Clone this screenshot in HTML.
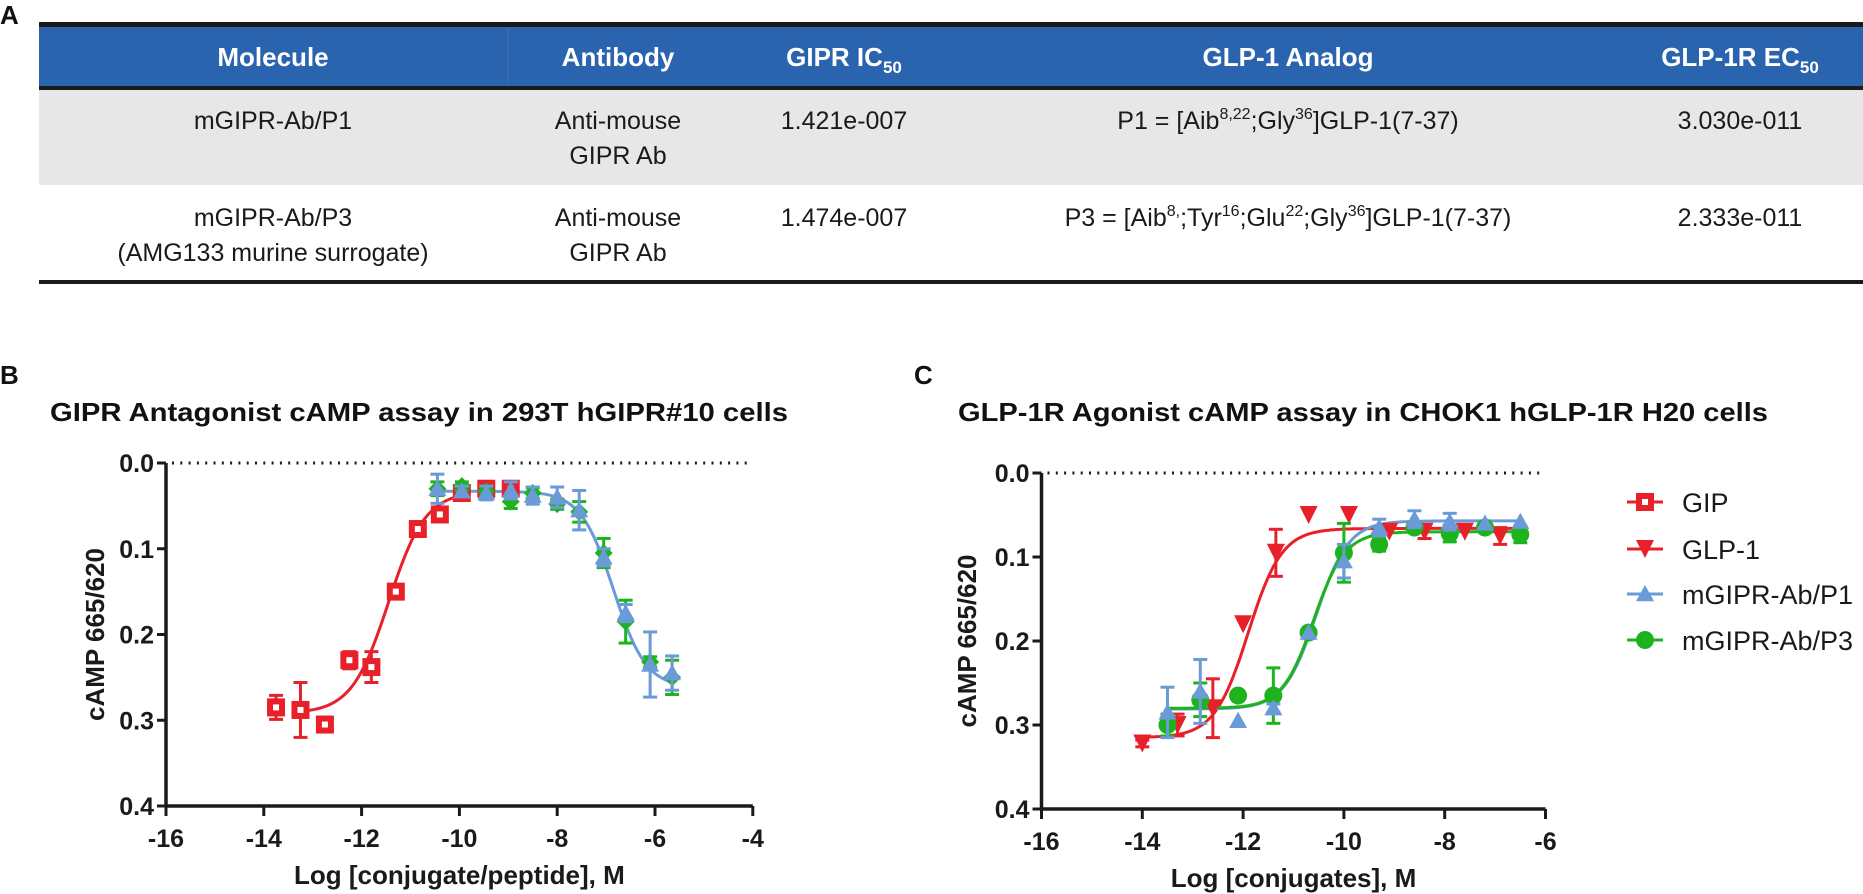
<!DOCTYPE html>
<html><head><meta charset="utf-8"><style>
html,body{margin:0;padding:0;background:#fff;}
svg{display:block;font-family:"Liberation Sans",Arial,sans-serif;}
</style></head><body>
<svg id="s" width="1863" height="894" viewBox="0 0 1863 894" xmlns="http://www.w3.org/2000/svg">
<!-- Panel A table -->
<text x="0" y="24" font-size="26" font-weight="bold" fill="#111">A</text>
<rect x="39" y="25" width="1824" height="62" fill="#2a63ae"/>
<rect x="39" y="89" width="1824" height="96" fill="#e6e7e6"/>
<rect x="39" y="22" width="1824" height="5" fill="#1a1a1a"/>
<rect x="39" y="86" width="1824" height="4" fill="#1a1a1a"/>
<rect x="39" y="280" width="1824" height="4" fill="#1a1a1a"/>
<line x1="508" y1="27" x2="508" y2="86" stroke="#3a70b8" stroke-width="1"/>
<g font-size="26" font-weight="bold" fill="#fff" text-anchor="middle">
<text x="273" y="66">Molecule</text>
<text x="618" y="66">Antibody</text>
<text x="844" y="66">GIPR IC<tspan font-size="17" dy="7">50</tspan></text>
<text x="1288" y="66">GLP-1 Analog</text>
<text x="1740" y="66">GLP-1R EC<tspan font-size="17" dy="7">50</tspan></text>
</g>
<g font-size="25" fill="#1a1a1a" text-anchor="middle">
<text x="273" y="129">mGIPR-Ab/P1</text>
<text x="618" y="129">Anti-mouse</text>
<text x="618" y="164">GIPR Ab</text>
<text x="844" y="129">1.421e-007</text>
<text x="1288" y="129">P1 = [Aib<tspan font-size="16" dy="-10">8,22</tspan><tspan dy="10">;Gly</tspan><tspan font-size="16" dy="-10">36</tspan><tspan dy="10">]GLP-1(7-37)</tspan></text>
<text x="1740" y="129">3.030e-011</text>
<text x="273" y="226">mGIPR-Ab/P3</text>
<text x="273" y="261">(AMG133 murine surrogate)</text>
<text x="618" y="226">Anti-mouse</text>
<text x="618" y="261">GIPR Ab</text>
<text x="844" y="226">1.474e-007</text>
<text x="1288" y="226">P3 = [Aib<tspan font-size="16" dy="-10">8,</tspan><tspan dy="10">;Tyr</tspan><tspan font-size="16" dy="-10">16</tspan><tspan dy="10">;Glu</tspan><tspan font-size="16" dy="-10">22</tspan><tspan dy="10">;Gly</tspan><tspan font-size="16" dy="-10">36</tspan><tspan dy="10">]GLP-1(7-37)</tspan></text>
<text x="1740" y="226">2.333e-011</text>
</g>
<!-- labels / titles -->
<text x="0" y="384" font-size="26" font-weight="bold" fill="#111">B</text>
<text x="914" y="384" font-size="26" font-weight="bold" fill="#111">C</text>
<text x="50" y="421" font-size="26" font-weight="bold" fill="#111" textLength="738" lengthAdjust="spacingAndGlyphs">GIPR Antagonist cAMP assay in 293T hGIPR#10 cells</text>
<text x="958" y="421" font-size="26" font-weight="bold" fill="#111" textLength="810" lengthAdjust="spacingAndGlyphs">GLP-1R Agonist cAMP assay in CHOK1 hGLP-1R H20 cells</text>
<g id="plots"></g>
<!-- legend -->
<g font-size="27" fill="#1a1a1a">
<text x="1682" y="512">GIP</text>
<text x="1682" y="559">GLP-1</text>
<text x="1682" y="604">mGIPR-Ab/P1</text>
<text x="1682" y="650">mGIPR-Ab/P3</text>
</g>
</svg>
<script>
const NS="http://www.w3.org/2000/svg",G=document.getElementById('plots');
function el(t,a,txt){const e=document.createElementNS(NS,t);for(const k in a)e.setAttribute(k,a[k]);if(txt!==undefined)e.textContent=txt;G.appendChild(e);return e;}
const R="#e8202a",B="#6a9ad8",Gr="#1cb31c";
function marker(type,x,y,c,s){s=s||9;
 if(type=='sq'){el('rect',{x:x-s,y:y-s,width:2*s,height:2*s,fill:c});el('rect',{x:x-3,y:y-3,width:6,height:6,fill:'#fff'});}
 else if(type=='dn')el('polygon',{points:`${x-s},${y-s} ${x+s},${y-s} ${x},${y+s}`,fill:c});
 else if(type=='up')el('polygon',{points:`${x-s},${y+s*0.8} ${x+s},${y+s*0.8} ${x},${y-s}`,fill:c});
 else if(type=='ci')el('circle',{cx:x,cy:y,r:s,fill:c});
 else if(type=='di')el('polygon',{points:`${x},${y-s} ${x+s},${y} ${x},${y+s} ${x-s},${y}`,fill:c});
}
function axes(o){
 const X=v=>o.x0+(v+16)*o.sx,Y=v=>o.y0+v*o.sy;
 el('line',{x1:o.x0,y1:o.y0,x2:o.x0,y2:Y(0.4),stroke:'#1a1a1a','stroke-width':3.5});
 el('line',{x1:o.x0-1.5,y1:Y(0.4),x2:X(o.xmax),y2:Y(0.4),stroke:'#1a1a1a','stroke-width':3.5});
 el('line',{x1:o.x0+6,y1:o.y0,x2:X(o.xmax),y2:o.y0,stroke:'#1a1a1a','stroke-width':3,'stroke-dasharray':'2 6.3'});
 for(let i=0;i<=4;i++){const y=Y(i/10);el('line',{x1:o.x0-9,y1:y,x2:o.x0,y2:y,stroke:'#1a1a1a','stroke-width':3});
  el('text',{x:o.x0-12,y:y+9,'font-size':25,'font-weight':'bold','text-anchor':'end',fill:'#1a1a1a'},(i/10).toFixed(1));}
 for(let v=-16;v<=o.xmax;v+=2){const x=X(v);el('line',{x1:x,y1:Y(0.4),x2:x,y2:Y(0.4)+10,stroke:'#1a1a1a','stroke-width':3});
  el('text',{x:x,y:Y(0.4)+41,'font-size':25,'font-weight':'bold','text-anchor':'middle',fill:'#1a1a1a'},String(v));}
 el('text',{x:(o.x0+X(o.xmax))/2,y:Y(0.4)+78,'font-size':26,'font-weight':'bold','text-anchor':'middle',fill:'#1a1a1a'},o.xt);
 el('text',{x:0,y:0,'font-size':26,'font-weight':'bold','text-anchor':'middle',fill:'#1a1a1a',transform:`translate(${o.ytx},${(o.y0+Y(0.4))/2}) rotate(-90)`},'cAMP 665/620');
 return [X,Y];
}
function curve(X,Y,a,b,ec,h,x1,x2,c){let d='';for(let v=x1;v<=x2+1e-9;v+=0.05){const y=b+(a-b)/(1+Math.pow(10,(v-ec)*h));d+=(d?'L':'M')+X(v).toFixed(1)+','+Y(y).toFixed(1);}
 el('path',{d:d,fill:'none',stroke:c,'stroke-width':3});}
function series(X,Y,pts,type,c){for(const p of pts){const x=X(p[0]),y=Y(p[1]);if(p[2]){const e=p[2];
 el('line',{x1:x,y1:Y(p[1]-e),x2:x,y2:Y(p[1]+e),stroke:c,'stroke-width':3});
 el('line',{x1:x-7,y1:Y(p[1]-e),x2:x+7,y2:Y(p[1]-e),stroke:c,'stroke-width':3});
 el('line',{x1:x-7,y1:Y(p[1]+e),x2:x+7,y2:Y(p[1]+e),stroke:c,'stroke-width':3});}
 marker(type,x,y,c);}}
// Panel B
let [X,Y]=axes({x0:166,sx:48.9,y0:463,sy:857.5,xmax:-4,xt:'Log [conjugate/peptide], M',ytx:104});
curve(X,Y,0.292,0.033,-11.45,1.15,-13.3,-10.0,R);
curve(X,Y,0.033,0.262,-6.85,1.3,-10.45,-5.65,B);
series(X,Y,[[-13.75,0.285,0.014],[-13.25,0.288,0.032],[-12.75,0.305,0],[-12.25,0.23,0.01],[-11.8,0.238,0.018],[-11.3,0.15,0.005],[-10.85,0.077,0.007],[-10.4,0.06,0.007],[-9.95,0.035,0.005],[-9.45,0.03,0.004],[-8.95,0.03,0.004]],'sq',R);
series(X,Y,[[-10.45,0.03,0.008],[-9.95,0.027,0.005],[-9.45,0.033,0.006],[-8.95,0.045,0.008],[-8.5,0.035,0.006],[-8.0,0.048,0.006],[-7.55,0.057,0.012],[-7.05,0.105,0.017],[-6.6,0.185,0.025],[-6.1,0.232,0.006],[-5.65,0.25,0.02]],'di',Gr);
series(X,Y,[[-10.45,0.03,0.017],[-9.95,0.033,0.006],[-9.45,0.035,0.008],[-8.95,0.032,0.01],[-8.5,0.038,0.01],[-8.0,0.04,0.012],[-7.55,0.055,0.023],[-7.05,0.11,0.01],[-6.6,0.175,0.01],[-6.1,0.235,0.038],[-5.65,0.245,0.02]],'up',B);
// Panel C
[X,Y]=axes({x0:1041.5,sx:50.4,y0:473,sy:840,xmax:-6,xt:'Log [conjugates], M',ytx:976});
curve(X,Y,0.315,0.066,-11.9,1.3,-14.0,-6.5,R);
curve(X,Y,0.281,0.057,-10.55,1.35,-13.5,-6.5,B);
curve(X,Y,0.28,0.07,-10.6,1.4,-13.5,-6.5,Gr);
series(X,Y,[[-14,0.322,0.004],[-13.3,0.3,0.013],[-12.6,0.28,0.035],[-12.0,0.18,0],[-11.35,0.095,0.028],[-10.7,0.05,0],[-9.9,0.05,0],[-9.1,0.07,0],[-8.4,0.07,0.008],[-7.6,0.07,0],[-6.9,0.075,0.01]],'dn',R);
series(X,Y,[[-13.5,0.3,0.013],[-12.85,0.27,0.02],[-12.1,0.265,0],[-11.4,0.265,0.033],[-10.7,0.19,0],[-10.0,0.095,0.035],[-9.3,0.085,0.008],[-8.6,0.065,0],[-7.9,0.072,0.01],[-7.2,0.065,0],[-6.5,0.073,0.01]],'ci',Gr);
series(X,Y,[[-13.5,0.285,0.03],[-12.85,0.26,0.038],[-12.1,0.295,0],[-11.4,0.28,0.005],[-10.7,0.19,0],[-10.0,0.105,0.02],[-9.3,0.065,0.01],[-8.6,0.055,0.01],[-7.9,0.058,0.01],[-7.2,0.06,0],[-6.5,0.058,0]],'up',B);
// legend markers
const LX=1645;
el('line',{x1:LX-18,y1:502,x2:LX+18,y2:502,stroke:R,'stroke-width':3});marker('sq',LX,502,R);
el('line',{x1:LX-18,y1:549,x2:LX+18,y2:549,stroke:R,'stroke-width':3});marker('dn',LX,549,R);
el('line',{x1:LX-18,y1:594,x2:LX+18,y2:594,stroke:B,'stroke-width':3});marker('up',LX,594,B);
el('line',{x1:LX-18,y1:640,x2:LX+18,y2:640,stroke:Gr,'stroke-width':3});marker('ci',LX,640,Gr);
</script>
</body></html>
